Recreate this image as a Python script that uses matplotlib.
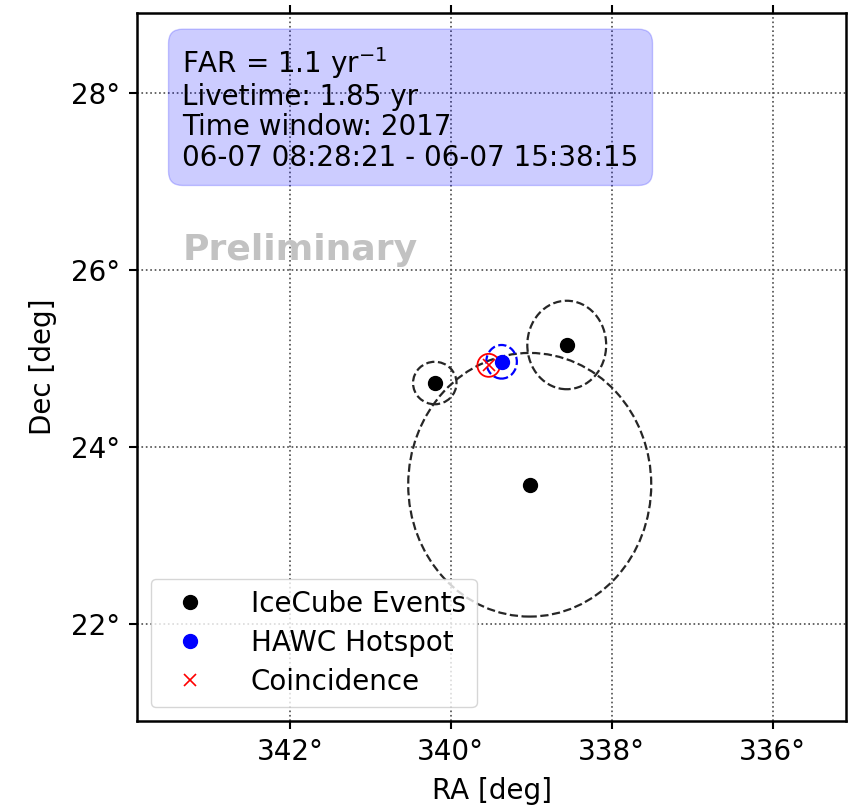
import matplotlib
matplotlib.use("Agg")
import matplotlib.pyplot as plt
from matplotlib.patches import Ellipse

# IceCube neutrino events (RA/Dec in deg) and their error region half-widths
ice_ra = [340.20, 338.56, 339.02]
ice_dec = [24.72, 25.15, 23.57]
ice_ra_err = [0.27, 0.49, 1.51]
ice_dec_err = [0.24, 0.50, 1.49]

# HAWC hotspot
hawc_ra = [339.37]
hawc_dec = [24.96]
hawc_ra_err = [0.19]
hawc_dec_err = [0.19]

# best-fit coincidence position
coinc_ra = [339.53]
coinc_dec = [24.92]
coinc_ra_err = [0.14]
coinc_dec_err = [0.13]

ra_ticks = [342, 340, 338, 336]
dec_ticks = [22, 24, 26, 28]

info_lines = [r"FAR = 1.1 yr$^{-1}$",
              "Livetime: 1.85 yr",
              "Time window: 2017",
              "06-07 08:28:21 - 06-07 15:38:15"]

fs = 20
fig = plt.figure(figsize=(8.48, 8.07), dpi=100)
ax = fig.add_axes([0.1616, 0.1066, 0.836, 0.877])

ax.set_xlim(343.90, 335.09)
ax.set_ylim(20.90, 28.90)

for ra, dec, er, ed in zip(ice_ra, ice_dec, ice_ra_err, ice_dec_err):
	ax.add_patch(Ellipse((ra, dec), 2 * er, 2 * ed, fill=False, ls="--",
	                     lw=1.6, ec="0.15", zorder=3))
for ra, dec, er, ed in zip(hawc_ra, hawc_dec, hawc_ra_err, hawc_dec_err):
	ax.add_patch(Ellipse((ra, dec), 2 * er, 2 * ed, fill=False, ls="--",
	                     lw=1.6, ec="blue", zorder=3))
for ra, dec, er, ed in zip(coinc_ra, coinc_dec, coinc_ra_err, coinc_dec_err):
	ax.add_patch(Ellipse((ra, dec), 2 * er, 2 * ed, fill=False, ls="-",
	                     lw=1.3, ec="red", zorder=3))

ax.plot(ice_ra, ice_dec, "o", color="black", ms=10, ls="none",
        label="IceCube Events", zorder=4)
ax.plot(hawc_ra, hawc_dec, "o", color="blue", ms=10, ls="none",
        label="HAWC Hotspot", zorder=4)
ax.plot(coinc_ra, coinc_dec, "x", color="red", ms=8, mew=1.2, ls="none",
        label="Coincidence", zorder=4)

ax.set_xticks(ra_ticks)
ax.set_xticklabels(["%d°" % t for t in ra_ticks])
ax.set_yticks(dec_ticks)
ax.set_yticklabels(["%d°" % t for t in dec_ticks])
ax.tick_params(labelsize=fs, length=6, width=1.5, direction="out",
               top=True, pad=6)
ax.grid(True, ls=":", color="0.3", lw=1.2)
for sp in ax.spines.values():
	sp.set_linewidth(1.8)

ax.set_xlabel("RA [deg]", fontsize=fs, labelpad=8)
ax.set_ylabel("Dec [deg]", fontsize=fs, labelpad=10)

ax.text(0.064, 0.955, "\n".join(info_lines), transform=ax.transAxes,
        fontsize=fs, va="top", ha="left", linespacing=1.1,
        bbox=dict(boxstyle="round,pad=0.5", fc="blue", ec="blue",
                  alpha=0.2), zorder=5)
ax.text(0.064, 0.665, "Preliminary", transform=ax.transAxes,
        fontsize=26, fontweight="bold", color="0.76", va="center",
        ha="left", zorder=5)

ax.legend(loc="lower left", fontsize=fs, handletextpad=1.2,
          borderpad=0.4, labelspacing=0.4, bbox_to_anchor=(0.0, 0.0))

fig.savefig("out.png", dpi=100)
